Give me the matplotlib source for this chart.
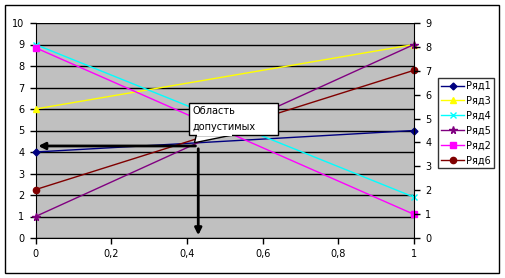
import matplotlib.pyplot as plt
from matplotlib.patches import Rectangle, Polygon

x = [0, 1]
names = ["Ряд1", "Ряд3", "Ряд4", "Ряд5", "Ряд2", "Ряд6"]
values = [
    [4.0, 5.0],
    [6.0, 9.0],
    [9.0, 1.9],
    [1.0, 9.0],
    [8.85, 1.1],
    [2.25, 7.8],
]
colors = ["#000080", "#ffff00", "#00ffff", "#800080", "#ff00ff", "#800000"]
markers = ["D", "^", "x", "*", "s", "o"]
msizes = [3.5, 4.5, 4.5, 5.5, 4.5, 4.5]

# точка оптимума
opt_x = 0.43
opt_y = 4.28
label = "Область\nдопустимых"

xticks = [0, 0.2, 0.4, 0.6, 0.8, 1]
xlabels = ["0", "0,2", "0,4", "0,6", "0,8", "1"]

fig = plt.figure(figsize=(5.05, 2.78), dpi=100)
ax = fig.add_axes([35.5/505, 1-238/278, (414-35.5)/505, (238-23)/278])
ax.set_facecolor("#c0c0c0")

for v, n, c, m, s in zip(values, names, colors, markers, msizes):
    ax.plot(x, v, color=c, marker=m, markersize=s, lw=1, label=n, clip_on=False, zorder=3)

ax.set_xlim(0, 1)
ax.set_ylim(0, 10)
ax.set_yticks(range(0, 11))
ax.set_xticks(xticks)
ax.set_xticklabels(xlabels)
ax.yaxis.grid(True, color="black", lw=1)
ax.set_axisbelow(True)
ax.tick_params(labelsize=7, length=4, width=1, color="black", pad=4)
for sp in ["top", "right"]:
    ax.spines[sp].set_visible(False)

ax2 = ax.twinx()
ax2.set_ylim(0, 9)
ax2.set_yticks(range(0, 10))
ax2.tick_params(labelsize=7, length=4, width=1, pad=4)
for sp in ["top", "left", "bottom"]:
    ax2.spines[sp].set_visible(False)

ax.annotate("", xy=(0, opt_y), xytext=(opt_x, opt_y),
            arrowprops=dict(arrowstyle="-|>", color="black", lw=2, mutation_scale=10), zorder=5)
ax.annotate("", xy=(opt_x, 0), xytext=(opt_x, opt_y),
            arrowprops=dict(arrowstyle="-|>", color="black", lw=2, mutation_scale=10), zorder=5)

# выноска
ax.add_patch(Polygon([(0.425, 4.79), (0.52, 4.79), (opt_x - 0.01, opt_y + 0.15)],
                     closed=True, fc="white", ec="black", lw=1, zorder=6))
ax.add_patch(Rectangle((0.406, 4.79), 0.235, 1.49, fc="white", ec="black", lw=1, zorder=6))
ax.add_patch(Rectangle((0.426, 4.75), 0.093, 0.1, fc="white", ec="none", zorder=7))
ax.text(0.414, 6.12, label, fontsize=7, va="top", ha="left", linespacing=1.7, zorder=8,
        clip_on=True, clip_box=None)

fig.legend(loc="upper left", bbox_to_anchor=(438/505, 1-78/278), fontsize=7,
           frameon=True, fancybox=False, edgecolor="black", handlelength=2.4,
           borderpad=0.3, labelspacing=0.5, handletextpad=0.2, borderaxespad=0)

fig.patches.append(Rectangle((5/505, 1-273/278), 494/505, 268/278, transform=fig.transFigure,
                             fill=False, ec="black", lw=1))

fig.savefig("out.png", dpi=100)
